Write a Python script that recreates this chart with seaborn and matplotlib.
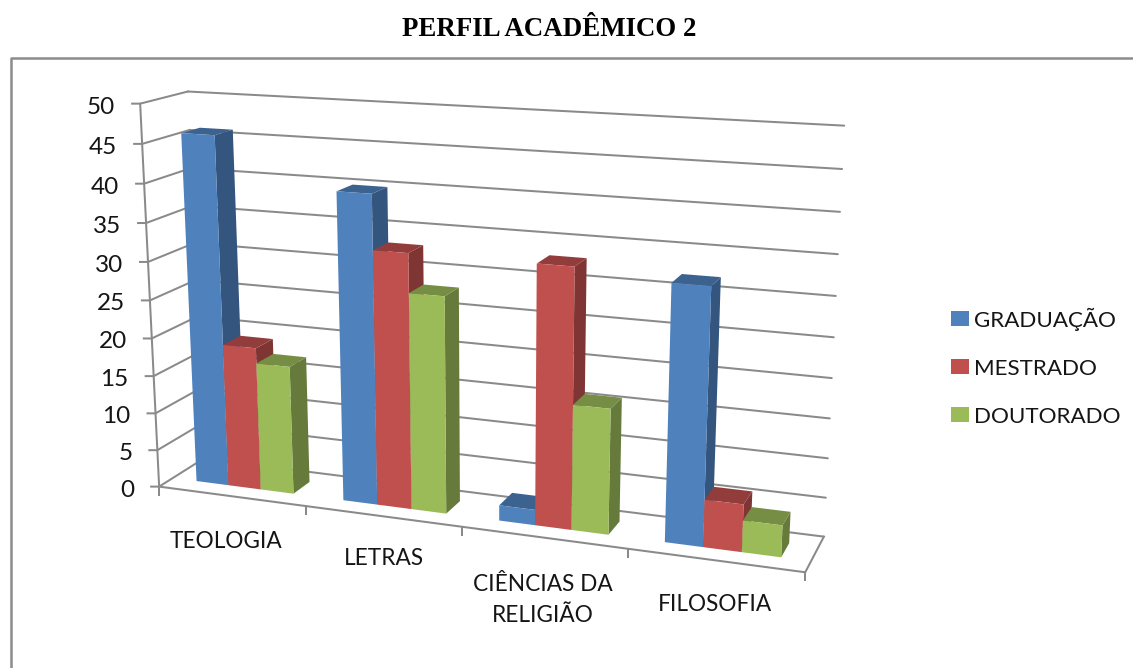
import numpy as np
import pandas as pd
import matplotlib
matplotlib.use("Agg")
import matplotlib.pyplot as plt
import seaborn as sns
from matplotlib.patches import Polygon
from matplotlib.transforms import Transform, IdentityTransform

categories = ["TEOLOGIA", "LETRAS", "CIÊNCIAS DA\nRELIGIÃO", "FILOSOFIA"]
graduacao = [46, 40, 2, 32]
mestrado = [19, 33, 33, 6]
doutorado = [17, 28, 16, 4]
series_names = ["GRADUAÇÃO", "MESTRADO", "DOUTORADO"]
y_ticks = [0, 5, 10, 15, 20, 25, 30, 35, 40, 45, 50]
title = "PERFIL ACADÊMICO 2"

W, H = 1133, 668
COLORS = ["#4F81BD", "#C0504D", "#9BBB59"]
GRID = "#8a8a8a"

# Calibration of the 3-D view of the chart box: (floor x 0-1, value, depth 0-1) -> image pixel
calib = [
    (0, 50, 0, 141, 104), (0, 45, 0, 143, 143), (0, 40, 0, 144, 184), (0, 35, 0, 145, 223),
    (0, 30, 0, 147, 262), (0, 20, 0, 153, 338), (0, 15, 0, 153, 376), (0, 10, 0, 156, 413),
    (0, 5, 0, 157, 450), (0, 0, 0, 159, 486),
    (.25, 0, 0, 307, 507), (.5, 0, 0, 462, 527), (.75, 0, 0, 628, 550), (1, 0, 0, 805, 572),
    (0, 50, 1, 187, 92), (0, 0, 1, 204, 459),
    (1, 50, 1, 844, 126), (1, 45, 1, 842, 169), (1, 40, 1, 840, 212), (1, 35, 1, 838, 254),
    (1, 30, 1, 836, 296), (1, 25, 1, 834, 337), (1, 20, 1, 832, 378), (1, 15, 1, 830, 418),
    (1, 10, 1, 828, 458), (1, 5, 1, 826, 497), (1, 0, 1, 823, 537),
]
A, b = [], []
for x, y, z, u, v in calib:
    X = [x, y / 50, z, 1]
    A.append(X + [0, 0, 0, 0] + [-u * c for c in X[:3]])
    b.append(u)
    A.append([0, 0, 0, 0] + X + [-v * c for c in X[:3]])
    b.append(v)
p = np.linalg.lstsq(np.array(A, float), np.array(b, float), rcond=None)[0]
P = np.append(p, 1).reshape(3, 4)


def proj(xdata, val, z):
    """data x (category scale), value, depth -> display pixels"""
    xdata, val = np.asarray(xdata, float), np.asarray(val, float)
    X = np.stack([(xdata + .5) / 4, val / 50, np.full_like(xdata, z), np.ones_like(xdata)], -1)
    q = X @ P.T
    return np.stack([q[..., 0] / q[..., 2], H - q[..., 1] / q[..., 2]], -1)


class Proj(Transform):
    input_dims = output_dims = 2
    is_affine = False

    def __init__(self, z):
        super().__init__()
        self.z = z

    def transform_non_affine(self, values):
        values = np.asarray(values, float)
        return proj(values[:, 0], values[:, 1], self.z)


sns.set_theme(style="white")
plt.rcParams["font.family"] = ["Lato", "DejaVu Sans"]
TXT = "#151515"
FS = 16.3

df = pd.DataFrame({"cat": categories, series_names[0]: graduacao,
                   series_names[1]: mestrado, series_names[2]: doutorado})
long = df.melt("cat", var_name="serie", value_name="val")

fig = plt.figure(figsize=(W / 100, H / 100), dpi=100, facecolor="white")
ax = fig.add_axes([0, 0, 1, 1])
sns.barplot(data=long, x="cat", y="val", hue="serie", hue_order=series_names,
            palette=COLORS, saturation=1, width=2 / 3, gap=0, ax=ax, linewidth=0)
ax.set_autoscale_on(False)
ax.axis("off")

ZF, ZB = 0.3, 0.7
LW = 1.45
tb = Proj(1.0)
tf = Proj(0.0)


def pix_line(pts, **kw):
    pts = np.array(pts)
    ax.plot(pts[:, 0], pts[:, 1], transform=IdentityTransform(), color=GRID, lw=LW,
            clip_on=False, solid_capstyle="projecting", zorder=1, **kw)


L, R = -.5, 3.5
for t in y_ticks:
    ax.plot([L, R], [t, t], transform=tb, color=GRID, lw=LW, clip_on=False, zorder=1)
    a = proj(L, t, 0.0)
    c = proj(L, t, 1.0)
    pix_line([a - [8, 0], a, c])
    ax.text(a[0] - 25, a[1] - 1.5, str(t), transform=IdentityTransform(), ha="right", va="center_baseline",
            fontsize=17.5, color=TXT, clip_on=False)
# axis and floor edges
ax.plot([L, L], [0, 50], transform=tf, color=GRID, lw=LW, clip_on=False, zorder=1)
ax.plot([L, R], [0, 0], transform=tf, color=GRID, lw=LW, clip_on=False, zorder=1)
pix_line([proj(R, 0, 0.0), proj(R, 0, 1.0)])
for k in range(5):
    a = proj(L + k, 0, 0.0)
    pix_line([a, a - [0, 8]])

# bars: the seaborn rectangles are the front faces; side and top follow from their geometry
order = 3
tfront = Proj(ZF)
for container, col in zip(ax.containers, COLORS):
    rgb = np.array(matplotlib.colors.to_rgb(col))
    for bar in container:
        x0, x1, v = bar.get_x(), bar.get_x() + bar.get_width(), bar.get_height()
        side = [proj(x1, 0, ZF), proj(x1, v, ZF), proj(x1, v, ZB), proj(x1, 0, ZB)]
        top = [proj(x0, v, ZF), proj(x1, v, ZF), proj(x1, v, ZB), proj(x0, v, ZB)]
        ax.add_patch(Polygon(side, closed=True, transform=IdentityTransform(), fc=rgb * .66,
                             lw=0, clip_on=False, zorder=order))
        ax.add_patch(Polygon(top, closed=True, transform=IdentityTransform(), fc=rgb * .76,
                             lw=0, clip_on=False, zorder=order + .1))
        bar.set_transform(tfront)
        bar.set_clip_on(False)
        bar.set_zorder(order + .2)
        order += 1

# category labels
label_offset = [(-6, 45), (1, 42), (-1, 62), (0, 44)]
for k, name in enumerate(categories):
    a = proj(k, 0, 0.0)
    ax.text(a[0] + label_offset[k][0], a[1] - label_offset[k][1], name, transform=IdentityTransform(),
            ha="center", va="center", fontsize=FS, color=TXT, linespacing=1.6, clip_on=False)

sns.move_legend(ax, "center left", bbox_to_anchor=(951 / W, 1 - 367 / H), frameon=False, title=None,
                fontsize=16.1, handlelength=0.8, handleheight=0.65, labelspacing=1.25,
                handletextpad=0.25, borderpad=0, borderaxespad=0)
for t in ax.get_legend().get_texts():
    t.set_color(TXT)

# chart frame and page title
fig.add_artist(plt.Line2D([11 / W, 11 / W, 1], [0, 1 - 58 / H, 1 - 58 / H], color="#8c8c8c", lw=1.8))
fig.text(549 / W, 1 - 30 / H, title, ha="center", va="center", fontsize=19.4, fontweight="bold",
         family="Liberation Serif", color="black")

fig.savefig("out.png", dpi=100, facecolor="white")
